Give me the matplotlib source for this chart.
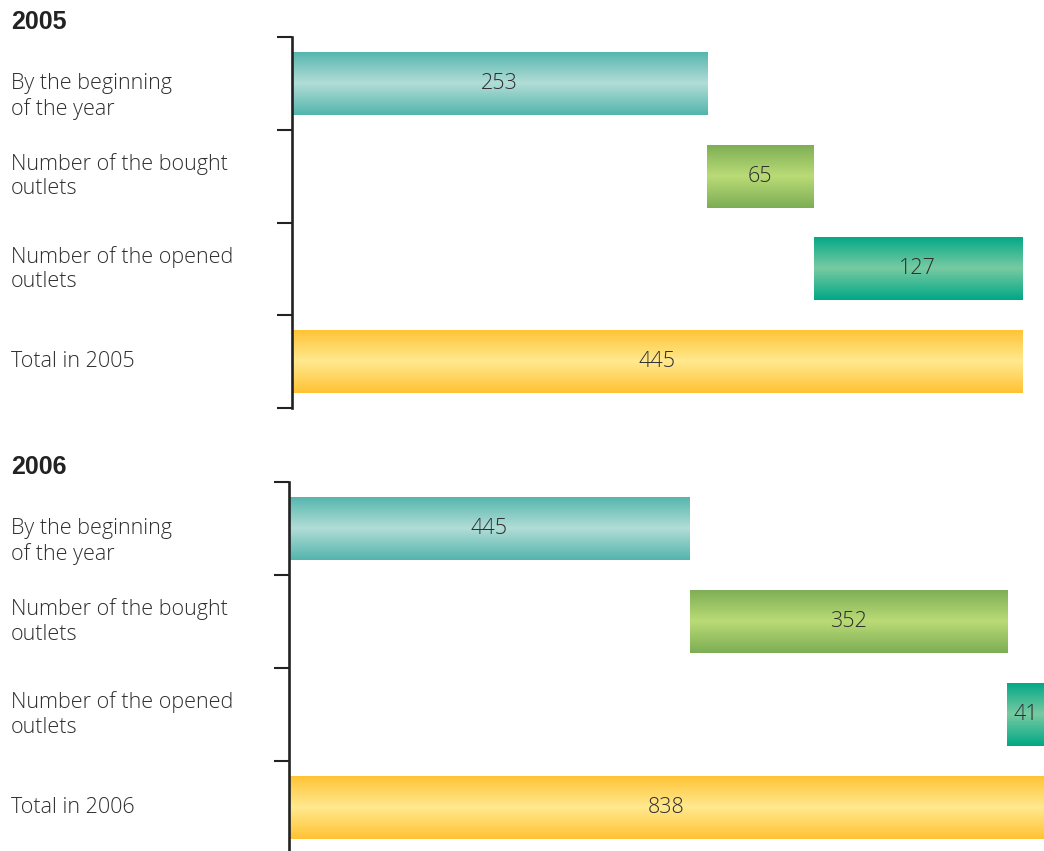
import numpy as np
import matplotlib.pyplot as plt
from matplotlib.colors import LinearSegmentedColormap
from matplotlib.transforms import blended_transform_factory

categories = ["By the beginning\nof the year", "Number of the bought\noutlets",
              "Number of the opened\noutlets", "Total in {}"]
years = ["2005", "2006"]
start_2005 = [253]
bought_2005 = [65]
opened_2005 = [127]
start_2006 = [445]
bought_2006 = [352]
opened_2006 = [41]

# edge colour, middle highlight colour for each row
bar_colors = [("#52b5ad", "#b2ddd7"), ("#7cad54", "#badb76"),
              ("#00a886", "#78caa2"), ("#ffc233", "#ffe98f")]

plt.rcParams['font.family'] = ['Open Sans', 'DejaVu Sans']
TXT = "#2e2e2e"

fig = plt.figure(figsize=(10.44, 8.51), dpi=100)
W, H = 1044, 851


def gradient_bar(ax, patch, c_edge, c_mid):
    cmap = LinearSegmentedColormap.from_list("g", [c_edge, c_mid, c_edge])
    x0, y0 = patch.get_x(), patch.get_y()
    w, h = patch.get_width(), patch.get_height()
    grad = np.linspace(0, 1, 256).reshape(-1, 1)
    im = ax.imshow(grad, cmap=cmap, aspect='auto', interpolation='bilinear',
                   extent=(x0, x0 + w, y0 + h, y0), zorder=2)
    im.set_clip_path(patch)


def panel(rect, year, begin, bought, opened, xmax, title_y):
    ax = fig.add_axes(rect)
    total = begin + bought + opened
    lefts = [0, begin, begin + bought, 0]
    widths = [begin, bought, opened, total]
    y = np.arange(4)
    bars = ax.barh(y, widths, left=lefts, height=0.68, facecolor='none',
                   edgecolor='none')
    for b, (ce, cm), v in zip(bars, bar_colors, widths):
        gradient_bar(ax, b, ce, cm)
        ax.text(b.get_x() + b.get_width() / 2, b.get_y() + b.get_height() / 2,
                str(v), ha='center', va='center', fontsize=15.5,
                fontweight='light', color=TXT, zorder=3)
    ax.set_xlim(0, xmax)
    ax.set_ylim(3.5, -0.5)
    for s in ['top', 'right', 'bottom']:
        ax.spines[s].set_visible(False)
    ax.spines['left'].set_linewidth(1.9)
    ax.spines['left'].set_color("#222222")
    ax.spines['left'].set_zorder(4)
    ax.set_xticks([])
    ax.set_yticks(np.arange(-0.5, 4, 1))
    ax.tick_params(axis='y', direction='out', length=11, width=1.5,
                   color="#222222", labelleft=False)
    tr = blended_transform_factory(fig.transFigure, ax.transData)
    for i, c in enumerate(categories):
        ax.text(11 / W, i + (0.14 if i == 0 else 0), c.format(year),
                transform=tr, ha='left', va='center', fontsize=15.5,
                fontweight='light', color=TXT, linespacing=1.2,
                clip_on=False)
    fig.text(11 / W, 1 - title_y / H, year, ha='left', va='center',
             fontsize=18, fontweight='bold', color="#222222",
             family=['Liberation Sans', 'DejaVu Sans'])
    return ax


panel([292 / W, 1 - 408 / H, 730 / W, 371 / H], years[0],
      start_2005[0], bought_2005[0], opened_2005[0], 445, 22)
panel([289 / W, 1 - 854 / H, 755 / W, 372 / H], years[1],
      start_2006[0], bought_2006[0], opened_2006[0], 838, 467)

fig.savefig("out.png", dpi=100)
